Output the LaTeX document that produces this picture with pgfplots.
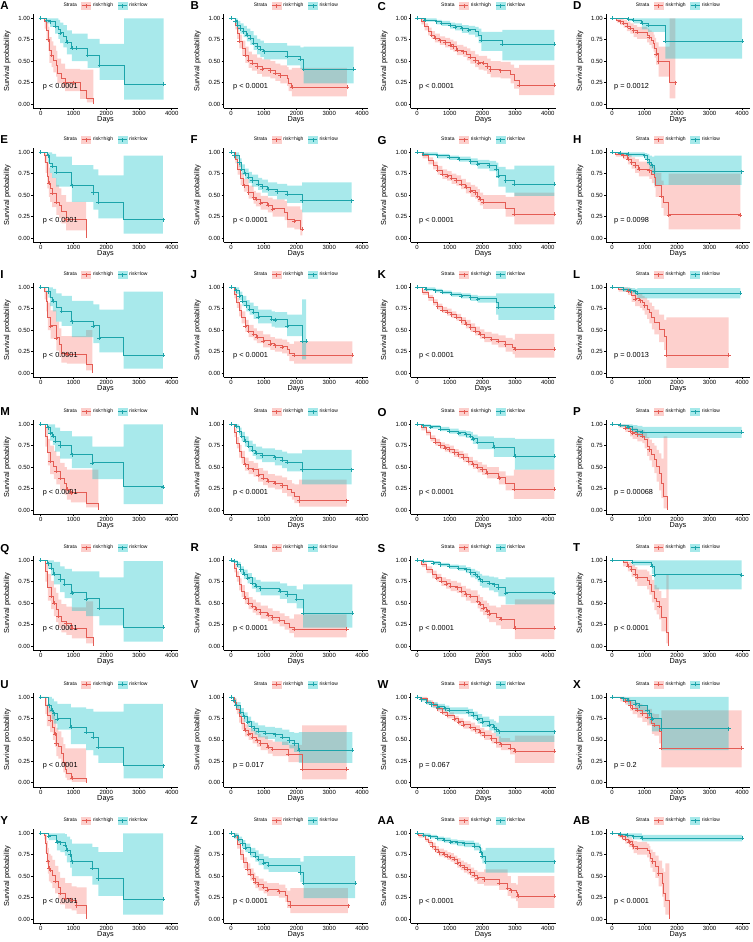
\documentclass[border=0pt]{standalone}
\usepackage{pgfplots}
\pgfplotsset{compat=1.18}
\usepackage{pgfplotstable}
\usepgfplotslibrary{fillbetween}
\usepackage{fontspec}
\setmainfont{Liberation Sans}
\definecolor{hibase}{HTML}{F8766D}
\definecolor{lobase}{HTML}{00BFC4}
\definecolor{hiline}{RGB}{228,92,84}
\definecolor{loline}{RGB}{28,164,170}
\colorlet{hifill}{hibase!35!white}
\colorlet{lofill}{lobase!35!white}
\newcommand\tickfont{\fontsize{6}{6}\selectfont}
\newcommand\labfont{\fontsize{7.3}{8}\selectfont}
\newcommand\legfont{\fontsize{5}{5.5}\selectfont}
\newcommand\letfont{\fontsize{11.5}{12}\selectfont\bfseries}
\pgfplotsset{
 km/.style={scale only axis, height=94.3pt, ymin=-0.05, ymax=1.05,
  axis x line*=bottom, axis y line*=left, axis line style={line width=0.5pt,-},
  xtick={0,1000,2000,3000,4000}, xticklabels={0,1000,2000,3000,4000},
  ytick={0,0.25,0.5,0.75,1}, yticklabels={0.00,0.25,0.50,0.75,1.00},
  tick align=outside, major tick length=2pt, tick style={line width=0.5pt,black},
  tick label style={font=\tickfont, inner sep=1pt},
  xlabel={Days}, ylabel={Survival probability},
  every axis x label/.style={at={(axis description cs:0.5,-0.124)},anchor=center,font=\labfont},
  every axis y label/.style={at={(axis description cs:-0.18,0.5)},rotate=90,anchor=center,font=\labfont},
  legend columns=-1,
  legend style={at={(axis description cs:0.5,1.088)},anchor=center,draw=none,fill=none,
   inner sep=0pt,font=\legfont,/tikz/every even column/.append style={column sep=2.5pt}},
 },
 hikey/.style={legend image code/.code={\fill[hifill] (0pt,-3.5pt) rectangle (9pt,3.5pt);
   \draw[hiline,line width=0.7pt] (0pt,0pt)--(9pt,0pt);
   \draw[hiline,line width=0.5pt] (4.5pt,-2pt)--(4.5pt,2pt);}},
 lokey/.style={legend image code/.code={\fill[lofill] (0pt,-3.5pt) rectangle (9pt,3.5pt);
   \draw[loline,line width=0.7pt] (0pt,0pt)--(9pt,0pt);
   \draw[loline,line width=0.5pt] (4.5pt,-2pt)--(4.5pt,2pt);}},
 c1/.style={xmin=-230,xmax=4190,width=144.7pt},
 c2/.style={xmin=-230,xmax=4190,width=144.7pt},
 c3/.style={xmin=-200,xmax=4250,width=145.5pt},
 c4/.style={xmin=-185,xmax=4245,width=144pt},
}
\newcommand{\band}[3]{%
 \addplot[const plot, draw=none, name path=#3u, forget plot] table[x=t,y=u]{#1};
 \addplot[const plot, draw=none, name path=#3l, forget plot] table[x=t,y=l]{#1};
 \addplot[fill=#2, fill opacity=0.34, draw=none, forget plot] fill between[of=#3u and #3l];
}
\newcommand{\curve}[2]{%
 \addplot[const plot, #2, line width=0.9pt, forget plot] table[x=t,y=s]{#1};
 \addplot[only marks, mark=+, mark size=2pt, #2, line width=0.5pt, forget plot,
   restrict expr to domain={\thisrow{c}}{0.5:1.5}] table[x=t,y=s]{#1};
}
\newcommand{\KM}[7]{%
\begin{axis}[km, #3, at={(#1pt,#2pt)}, anchor=south west,
  extra description/.code={\node[anchor=north west,inner sep=0pt,font=\letfont]
   at ([xshift=-33pt,yshift=12.2pt]axis description cs:0,1) {#4};}]
 \band{#6}{hibase}{h}
 \band{#7}{lobase}{o}
 \curve{#6}{hiline}
 \curve{#7}{loline}
 \node[anchor=west,inner sep=0pt,font=\labfont] at (axis cs:60,0.2) {#5};
 \addlegendimage{empty legend}\addlegendentry{Strata}
 \addlegendimage{hikey}\addlegendentry{risk=high}
 \addlegendimage{lokey}\addlegendentry{risk=low}
\end{axis}}

% ---------------- column 1 ----------------
\pgfplotstableread{
t s u l c
0 1 1 1 0
120 0.96 1 0.88 0
180 0.86 0.97 0.74 0
235 0.75 0.90 0.62 1
265 0.62 0.78 0.48 0
335 0.57 0.73 0.43 1
390 0.51 0.68 0.37 0
470 0.45 0.62 0.32 0
510 0.36 0.53 0.24 0
620 0.30 0.47 0.19 0
745 0.25 0.41 0.15 1
1000 0.25 0.41 0.15 1
1200 0.16 0.40 0.06 0
1410 0.07 0.40 0.02 0
1610 0.0 0.40 0.02 0
}\TAhi
\pgfplotstableread{
t s u l c
0 1 1 1 1
180 0.98 1 0.94 1
285 0.96 1 0.90 1
440 0.91 1 0.82 1
540 0.87 0.98 0.76 0
590 0.83 0.95 0.71 1
690 0.79 0.92 0.66 0
800 0.72 0.86 0.58 1
950 0.65 0.82 0.50 1
1100 0.65 0.82 0.50 1
1430 0.57 0.76 0.42 1
1800 0.455 0.70 0.28 1
2550 0.23 1.0 0.05 0
3755 0.23 1.0 0.05 1
}\TAlo
\pgfplotstableread{
t s u l c
0 1 1 1 0
120 0.96 1 0.88 0
150 0.88 0.98 0.76 0
200 0.72 0.88 0.58 0
250 0.64 0.82 0.48 1
290 0.58 0.76 0.42 0
350 0.52 0.70 0.36 1
480 0.42 0.62 0.27 1
560 0.38 0.58 0.23 0
630 0.31 0.50 0.17 0
775 0.215 0.42 0.09 1
1390 0.0 0.42 0.09 0
}\TEhi
\pgfplotstableread{
t s u l c
0 1 1 1 1
220 0.96 1 0.88 1
280 0.875 1 0.76 0
350 0.84 0.98 0.70 1
470 0.765 0.95 0.60 1
950 0.61 0.85 0.42 1
1610 0.53 0.80 0.33 1
1760 0.42 0.73 0.23 1
2530 0.215 0.96 0.05 0
3730 0.215 0.96 0.05 1
}\TElo
\pgfplotstableread{
t s u l c
0 1 1 1 0
120 0.95 1 0.86 0
170 0.84 0.96 0.72 0
220 0.65 0.82 0.50 0
300 0.55 0.73 0.40 1
480 0.41 0.60 0.26 1
560 0.33 0.52 0.19 0
630 0.23 0.43 0.12 0
800 0.22 0.43 0.11 1
1390 0.10 0.50 0.03 0
1580 0.0 0.50 0.03 0
}\TIhi
\pgfplotstableread{
t s u l c
0 1 1 1 1
230 0.95 1 0.88 1
290 0.88 1 0.78 0
370 0.84 0.98 0.72 1
470 0.76 0.93 0.60 0
640 0.72 0.90 0.55 1
950 0.60 0.84 0.42 1
1610 0.55 0.80 0.35 1
1790 0.41 0.74 0.24 1
2530 0.21 0.95 0.05 0
3730 0.21 0.95 0.05 1
}\TIlo
\pgfplotstableread{
t s u l c
0 1 1 1 0
140 0.86 0.97 0.74 0
220 0.67 0.83 0.52 0
290 0.57 0.75 0.42 1
400 0.51 0.69 0.36 0
480 0.45 0.63 0.30 1
590 0.37 0.55 0.23 1
730 0.31 0.50 0.18 0
800 0.245 0.47 0.12 1
920 0.20 0.47 0.09 1
1390 0.075 0.47 0.03 0
1760 0.0 0.47 0.03 0
}\TMhi
\pgfplotstableread{
t s u l c
0 1 1 1 1
220 0.96 1 0.90 1
290 0.90 1 0.81 1
370 0.86 1 0.76 1
440 0.80 0.96 0.68 1
590 0.75 0.92 0.60 1
950 0.645 0.86 0.49 1
1580 0.55 0.74 0.36 1
2530 0.27 1.0 0.07 0
3730 0.27 1.0 0.07 1
}\TMlo
\pgfplotstableread{
t s u l c
0 1 1 1 0
140 0.87 0.97 0.75 0
220 0.68 0.84 0.53 0
320 0.58 0.76 0.43 1
400 0.50 0.68 0.35 1
470 0.43 0.62 0.28 0
540 0.35 0.54 0.21 1
630 0.29 0.49 0.16 0
780 0.26 0.46 0.13 1
950 0.205 0.45 0.09 1
1390 0.105 0.52 0.03 0
1600 0.0 0.52 0.03 0
}\TQhi
\pgfplotstableread{
t s u l c
0 1 1 1 1
220 0.96 1 0.90 1
320 0.91 1 0.82 1
400 0.84 0.98 0.72 1
590 0.775 0.93 0.63 1
730 0.72 0.90 0.56 1
950 0.62 0.87 0.41 1
1390 0.55 0.87 0.35 1
1790 0.44 0.80 0.24 1
2530 0.22 0.99 0.05 0
3730 0.22 0.99 0.05 1
}\TQlo
\pgfplotstableread{
t s u l c
0 1 1 1 0
140 0.90 0.99 0.80 0
190 0.79 0.92 0.66 0
290 0.73 0.87 0.59 1
370 0.65 0.81 0.50 0
430 0.57 0.74 0.42 1
480 0.455 0.64 0.31 1
540 0.42 0.60 0.28 0
630 0.34 0.53 0.20 0
690 0.24 0.45 0.12 0
750 0.16 0.40 0.06 0
800 0.105 0.40 0.03 0
950 0.055 0.40 0.01 1
1390 0.0 0.40 0.01 0
}\TUhi
\pgfplotstableread{
t s u l c
0 1 1 1 1
250 0.90 1 0.82 1
340 0.845 0.98 0.74 1
400 0.805 0.95 0.69 1
510 0.745 0.92 0.62 1
920 0.65 0.88 0.45 1
1390 0.59 0.86 0.38 1
1610 0.53 0.83 0.32 1
1760 0.415 0.83 0.23 1
2530 0.20 0.92 0.05 0
3730 0.20 0.92 0.05 1
}\TUlo
\pgfplotstableread{
t s u l c
0 1 1 1 0
110 0.98 1 0.93 0
150 0.88 0.98 0.77 0
185 0.77 0.91 0.64 0
215 0.67 0.83 0.53 1
245 0.59 0.76 0.44 1
305 0.57 0.74 0.42 1
355 0.51 0.69 0.36 0
440 0.44 0.62 0.30 1
540 0.37 0.55 0.23 0
590 0.30 0.48 0.17 1
745 0.24 0.42 0.12 1
945 0.22 0.38 0.10 1
1100 0.155 0.37 0.06 1
1400 0.0 0.37 0.06 0
}\TYhi
\pgfplotstableread{
t s u l c
0 1 1 1 1
240 0.97 1 0.92 1
490 0.90 1 0.80 1
600 0.89 1 0.78 1
740 0.86 0.99 0.74 1
800 0.80 0.96 0.66 1
900 0.75 0.93 0.60 1
950 0.67 0.88 0.50 1
1580 0.59 0.84 0.40 1
1760 0.47 0.78 0.27 1
2520 0.23 1.0 0.05 0
3740 0.23 1.0 0.05 1
}\TYlo
% ---------------- column 2 ----------------
\pgfplotstableread{
t s u l c
0 1 1 1 0
130 0.92 0.97 0.87 0
185 0.825 0.90 0.76 0
255 0.73 0.81 0.65 1
335 0.65 0.74 0.56 0
435 0.57 0.67 0.48 1
540 0.51 0.61 0.42 1
640 0.475 0.58 0.39 1
795 0.435 0.54 0.35 1
950 0.41 0.52 0.32 1
1200 0.39 0.50 0.30 1
1355 0.36 0.47 0.27 1
1505 0.33 0.45 0.24 1
1710 0.30 0.43 0.21 0
1760 0.24 0.40 0.15 0
1860 0.195 0.42 0.09 1
3540 0.195 0.42 0.09 1
}\TBhi
\pgfplotstableread{
t s u l c
0 1 1 1 1
130 0.97 1 0.93 1
200 0.92 0.97 0.87 1
285 0.88 0.94 0.82 1
385 0.845 0.91 0.78 1
485 0.805 0.88 0.73 1
590 0.77 0.85 0.69 1
690 0.71 0.80 0.63 1
795 0.67 0.76 0.58 1
900 0.64 0.74 0.55 1
1000 0.61 0.71 0.52 1
1710 0.56 0.68 0.45 1
2115 0.52 0.66 0.41 1
2220 0.405 0.67 0.24 1
3745 0.405 0.67 0.24 1
}\TBlo
\pgfplotstableread{
t s u l c
0 1 1 1 0
130 0.92 0.97 0.87 0
200 0.80 0.87 0.74 0
290 0.69 0.76 0.62 0
390 0.61 0.69 0.54 1
540 0.53 0.61 0.46 1
690 0.47 0.55 0.40 1
760 0.45 0.53 0.37 1
905 0.41 0.49 0.33 1
1125 0.38 0.47 0.30 1
1270 0.34 0.45 0.25 1
1635 0.30 0.43 0.21 0
1710 0.22 0.37 0.12 0
1935 0.20 0.37 0.10 1
2120 0.10 0.33 0.03 0
2180 0.10 0.33 0.03 1
}\TFhi
\pgfplotstableread{
t s u l c
0 1 1 1 1
100 0.96 1 0.92 1
250 0.88 0.93 0.83 1
320 0.80 0.86 0.74 1
420 0.75 0.81 0.69 1
540 0.71 0.77 0.64 1
640 0.67 0.74 0.60 1
830 0.63 0.70 0.56 1
950 0.60 0.68 0.53 1
1125 0.57 0.65 0.49 1
1410 0.54 0.63 0.45 1
1710 0.51 0.61 0.41 1
2175 0.435 0.65 0.30 1
3680 0.435 0.65 0.30 1
}\TFlo
\pgfplotstableread{
t s u l c
0 1 1 1 0
100 0.92 0.97 0.87 0
175 0.82 0.88 0.76 0
250 0.73 0.80 0.66 0
320 0.65 0.72 0.58 0
440 0.55 0.62 0.48 1
540 0.49 0.56 0.42 1
690 0.45 0.52 0.38 1
790 0.42 0.49 0.35 1
980 0.375 0.45 0.30 1
1200 0.34 0.42 0.27 1
1340 0.32 0.40 0.25 1
1560 0.305 0.39 0.23 1
1710 0.28 0.36 0.20 0
1780 0.23 0.34 0.14 0
1925 0.21 0.37 0.11 1
3710 0.21 0.37 0.11 1
}\TJhi
\pgfplotstableread{
t s u l c
0 1 1 1 1
150 0.96 1 0.92 1
250 0.90 0.95 0.85 1
350 0.84 0.90 0.78 1
470 0.785 0.85 0.72 1
570 0.745 0.82 0.68 1
690 0.71 0.78 0.63 1
830 0.655 0.74 0.58 1
1240 0.63 0.72 0.54 1
1340 0.62 0.71 0.53 1
1710 0.55 0.68 0.43 1
2175 0.37 0.86 0.16 1
2290 0.37 0.86 0.16 1
}\TJlo
\pgfplotstableread{
t s u l c
0 1 1 1 0
100 0.90 0.95 0.85 0
175 0.78 0.85 0.72 0
250 0.685 0.76 0.61 0
320 0.61 0.69 0.54 0
420 0.53 0.61 0.46 1
540 0.49 0.57 0.42 1
690 0.47 0.55 0.39 1
830 0.41 0.49 0.33 1
980 0.37 0.46 0.29 1
1125 0.335 0.42 0.26 1
1340 0.315 0.40 0.24 1
1560 0.285 0.38 0.20 1
1710 0.245 0.35 0.16 0
1860 0.20 0.31 0.12 0
1935 0.16 0.30 0.08 0
2080 0.11 0.355 0.04 1
3530 0.11 0.355 0.04 1
}\TNhi
\pgfplotstableread{
t s u l c
0 1 1 1 1
150 0.98 1 0.95 1
250 0.92 0.96 0.87 1
320 0.86 0.91 0.80 1
420 0.80 0.86 0.74 1
540 0.745 0.81 0.68 1
660 0.70 0.77 0.63 1
760 0.665 0.74 0.59 1
950 0.635 0.72 0.56 1
1340 0.61 0.70 0.52 1
1560 0.58 0.68 0.49 1
1710 0.555 0.66 0.45 1
2175 0.47 0.70 0.30 1
3680 0.47 0.70 0.30 1
}\TNlo
\pgfplotstableread{
t s u l c
0 1 1 1 0
100 0.91 0.96 0.86 0
175 0.81 0.87 0.75 0
250 0.72 0.79 0.65 0
320 0.64 0.71 0.57 0
420 0.56 0.63 0.49 1
540 0.50 0.57 0.43 1
660 0.465 0.54 0.39 1
760 0.43 0.51 0.36 1
905 0.39 0.47 0.32 1
1125 0.36 0.44 0.29 1
1270 0.33 0.41 0.26 1
1485 0.30 0.38 0.23 1
1635 0.26 0.35 0.19 0
1780 0.22 0.32 0.15 0
1925 0.195 0.37 0.10 1
3530 0.195 0.37 0.10 1
}\TRhi
\pgfplotstableread{
t s u l c
0 1 1 1 1
100 0.99 1 0.97 1
200 0.95 0.98 0.91 1
290 0.89 0.93 0.84 1
390 0.84 0.89 0.78 1
510 0.795 0.85 0.73 1
640 0.735 0.80 0.67 1
760 0.70 0.77 0.63 1
905 0.67 0.75 0.59 1
1490 0.64 0.73 0.55 1
1710 0.60 0.70 0.50 1
2000 0.545 0.66 0.44 1
2200 0.385 0.72 0.215 1
3710 0.385 0.72 0.215 1
}\TRlo
\pgfplotstableread{
t s u l c
0 1 1 1 0
100 0.94 0.98 0.90 0
175 0.86 0.91 0.80 0
250 0.77 0.83 0.70 0
320 0.69 0.76 0.62 0
420 0.61 0.68 0.54 1
540 0.57 0.64 0.50 1
660 0.53 0.61 0.46 1
790 0.49 0.57 0.42 1
905 0.455 0.54 0.38 1
1125 0.415 0.50 0.34 1
1270 0.39 0.48 0.31 1
1750 0.33 0.44 0.24 1
2175 0.155 0.67 0.04 1
3530 0.155 0.67 0.04 1
}\TVhi
\pgfplotstableread{
t s u l c
0 1 1 1 1
70 0.96 0.99 0.93 1
150 0.90 0.94 0.86 1
290 0.825 0.87 0.77 1
390 0.77 0.82 0.71 1
510 0.71 0.77 0.65 1
610 0.66 0.72 0.60 1
720 0.63 0.70 0.56 1
830 0.60 0.67 0.53 1
1040 0.58 0.65 0.51 1
1340 0.56 0.64 0.48 1
1560 0.53 0.62 0.44 1
1780 0.49 0.59 0.40 1
1925 0.455 0.58 0.36 1
2070 0.38 0.59 0.23 1
3710 0.38 0.59 0.23 1
}\TVlo
\pgfplotstableread{
t s u l c
0 1 1 1 0
100 0.97 1 0.94 0
185 0.87 0.92 0.82 0
285 0.75 0.81 0.69 0
385 0.66 0.72 0.59 0
490 0.58 0.65 0.51 1
590 0.52 0.59 0.45 1
690 0.47 0.54 0.40 1
740 0.43 0.50 0.36 1
840 0.40 0.47 0.33 1
995 0.37 0.44 0.30 1
1100 0.34 0.42 0.27 1
1460 0.32 0.40 0.25 1
1660 0.27 0.36 0.20 0
1710 0.21 0.33 0.13 0
1810 0.155 0.36 0.07 1
3570 0.155 0.36 0.07 1
}\TZhi
\pgfplotstableread{
t s u l c
0 1 1 1 1
100 0.97 1 0.94 1
235 0.93 0.96 0.89 1
335 0.88 0.92 0.83 1
435 0.83 0.88 0.78 1
590 0.775 0.83 0.72 1
740 0.735 0.80 0.67 1
840 0.695 0.76 0.63 1
995 0.655 0.73 0.58 1
1150 0.625 0.71 0.55 1
2115 0.54 0.67 0.43 1
2220 0.42 0.735 0.245 1
3790 0.42 0.735 0.245 1
}\TZlo
% ---------------- column 3 ----------------
\pgfplotstableread{
t s u l c
0 1 1 1 0
130 0.96 0.99 0.93 0
235 0.90 0.94 0.86 0
340 0.845 0.89 0.80 0
445 0.805 0.85 0.76 1
545 0.77 0.82 0.72 1
700 0.74 0.79 0.69 1
855 0.715 0.77 0.66 1
1010 0.69 0.75 0.63 1
1110 0.67 0.73 0.61 1
1215 0.63 0.69 0.57 1
1420 0.61 0.67 0.55 1
1525 0.58 0.65 0.51 0
1630 0.545 0.62 0.47 1
1780 0.505 0.58 0.43 1
1880 0.48 0.56 0.40 1
2040 0.475 0.56 0.39 1
2145 0.435 0.53 0.35 1
2250 0.40 0.50 0.31 1
2555 0.39 0.49 0.30 1
2865 0.34 0.46 0.24 0
2970 0.28 0.42 0.18 0
3125 0.22 0.455 0.105 1
4200 0.22 0.455 0.105 1
}\TChi
\pgfplotstableread{
t s u l c
0 1 1 1 1
240 0.98 1 0.96 1
600 0.96 0.98 0.93 1
750 0.94 0.97 0.91 1
1010 0.92 0.95 0.88 1
1165 0.90 0.94 0.86 1
1370 0.88 0.92 0.83 1
1575 0.865 0.91 0.81 1
1780 0.845 0.90 0.78 0
1885 0.805 0.88 0.71 0
1970 0.745 0.84 0.62 1
2610 0.695 0.865 0.51 1
4200 0.695 0.865 0.51 1
}\TClo
\pgfplotstableread{
t s u l c
0 1 1 1 0
170 0.96 0.99 0.93 0
345 0.90 0.94 0.86 0
490 0.845 0.89 0.80 0
630 0.79 0.84 0.74 1
775 0.745 0.80 0.69 1
920 0.725 0.78 0.67 1
1060 0.695 0.75 0.63 1
1205 0.67 0.73 0.61 1
1345 0.63 0.69 0.57 1
1490 0.59 0.65 0.52 1
1635 0.55 0.62 0.48 1
1780 0.53 0.60 0.46 1
1850 0.49 0.57 0.42 1
1920 0.455 0.53 0.38 1
2020 0.42 0.50 0.34 1
2710 0.345 0.48 0.25 0
2980 0.28 0.53 0.16 1
4200 0.28 0.53 0.16 1
}\TGhi
\pgfplotstableread{
t s u l c
0 1 1 1 1
200 0.98 1 0.96 1
630 0.96 0.98 0.93 1
990 0.94 0.96 0.91 1
1280 0.92 0.95 0.89 1
1635 0.89 0.93 0.85 1
1850 0.865 0.91 0.81 1
2210 0.845 0.90 0.78 1
2420 0.80 0.88 0.70 1
2490 0.725 0.83 0.60 1
2710 0.67 0.80 0.53 1
2980 0.63 0.845 0.49 1
4200 0.63 0.845 0.49 1
}\TGlo
\pgfplotstableread{
t s u l c
0 1 1 1 0
170 0.94 0.97 0.91 0
345 0.88 0.91 0.84 0
490 0.825 0.86 0.79 0
630 0.775 0.81 0.74 1
775 0.735 0.77 0.70 1
920 0.71 0.75 0.67 1
1060 0.68 0.72 0.64 1
1205 0.65 0.69 0.61 1
1345 0.61 0.65 0.56 1
1490 0.57 0.62 0.52 1
1635 0.53 0.58 0.48 1
1780 0.49 0.54 0.44 1
1920 0.455 0.51 0.40 1
2060 0.42 0.48 0.36 1
2280 0.395 0.46 0.33 1
2490 0.37 0.44 0.30 1
2710 0.33 0.41 0.25 1
2920 0.30 0.39 0.22 0
2990 0.28 0.455 0.18 1
4200 0.28 0.455 0.18 1
}\TKhi
\pgfplotstableread{
t s u l c
0 1 1 1 1
270 0.98 1 0.96 1
560 0.96 0.98 0.94 1
775 0.94 0.96 0.92 1
1060 0.92 0.94 0.89 1
1345 0.90 0.93 0.87 1
1635 0.88 0.91 0.84 1
1850 0.865 0.90 0.82 1
2420 0.825 0.93 0.68 0
2490 0.765 0.93 0.62 1
4200 0.765 0.93 0.62 1
}\TKlo
\pgfplotstableread{
t s u l c
0 1 1 1 0
130 0.96 0.99 0.93 0
275 0.90 0.93 0.87 0
415 0.84 0.87 0.80 0
560 0.79 0.83 0.75 1
705 0.75 0.79 0.71 1
850 0.725 0.77 0.68 1
990 0.705 0.75 0.66 1
1130 0.67 0.71 0.62 1
1275 0.645 0.69 0.60 1
1420 0.61 0.66 0.56 1
1560 0.57 0.62 0.52 1
1705 0.53 0.58 0.48 1
1850 0.50 0.56 0.44 1
1990 0.47 0.53 0.41 1
2135 0.43 0.50 0.37 1
2500 0.375 0.45 0.30 1
2710 0.315 0.40 0.23 0
2965 0.245 0.47 0.13 1
4200 0.245 0.47 0.13 1
}\TOhi
\pgfplotstableread{
t s u l c
0 1 1 1 1
200 0.985 1 0.97 1
415 0.97 0.99 0.95 1
705 0.945 0.97 0.92 1
990 0.92 0.95 0.89 1
1275 0.90 0.93 0.86 1
1490 0.88 0.92 0.84 1
1635 0.86 0.91 0.81 1
1705 0.83 0.88 0.77 1
1850 0.79 0.86 0.71 1
2350 0.735 0.84 0.62 1
2990 0.625 0.83 0.47 1
4200 0.625 0.83 0.47 1
}\TOlo
\pgfplotstableread{
t s u l c
0 1 1 1 0
145 0.95 0.98 0.92 0
290 0.89 0.93 0.85 0
460 0.835 0.88 0.79 0
600 0.795 0.84 0.75 1
745 0.755 0.80 0.70 1
890 0.725 0.78 0.67 1
1030 0.70 0.76 0.64 1
1220 0.68 0.74 0.62 1
1345 0.64 0.70 0.57 1
1490 0.60 0.67 0.53 1
1635 0.58 0.65 0.50 1
1850 0.52 0.60 0.44 1
1920 0.485 0.57 0.40 1
2020 0.445 0.53 0.36 1
2135 0.41 0.50 0.32 1
2205 0.375 0.47 0.28 1
2420 0.33 0.45 0.24 0
2565 0.31 0.48 0.20 1
2990 0.21 0.545 0.08 1
4200 0.21 0.545 0.08 1
}\TShi
\pgfplotstableread{
t s u l c
0 1 1 1 1
200 0.99 1 0.98 1
490 0.97 0.99 0.95 1
705 0.95 0.97 0.93 1
990 0.93 0.95 0.90 1
1275 0.91 0.94 0.88 1
1490 0.89 0.92 0.85 1
1635 0.855 0.90 0.80 1
1780 0.835 0.88 0.78 1
1850 0.815 0.87 0.75 1
1920 0.775 0.84 0.70 1
1990 0.755 0.82 0.68 1
2205 0.735 0.81 0.65 1
2350 0.715 0.80 0.63 1
2490 0.68 0.78 0.58 1
2710 0.62 0.80 0.485 1
4200 0.62 0.80 0.485 1
}\TSlo
\pgfplotstableread{
t s u l c
0 1 1 1 0
100 0.98 1 0.96 0
315 0.94 0.96 0.92 0
490 0.90 0.93 0.87 0
630 0.865 0.90 0.83 1
775 0.825 0.86 0.79 1
920 0.785 0.82 0.75 1
1130 0.745 0.78 0.71 1
1275 0.71 0.75 0.67 1
1420 0.675 0.72 0.63 1
1635 0.65 0.70 0.60 1
1780 0.62 0.67 0.57 1
1920 0.59 0.64 0.54 1
2060 0.55 0.61 0.50 1
2280 0.515 0.58 0.46 1
2420 0.475 0.54 0.41 1
2565 0.445 0.52 0.38 1
2850 0.405 0.49 0.33 1
2990 0.365 0.55 0.23 1
4200 0.365 0.55 0.23 1
}\TWhi
\pgfplotstableread{
t s u l c
0 1 1 1 1
130 0.97 0.99 0.95 1
290 0.94 0.96 0.91 1
430 0.91 0.94 0.88 1
630 0.885 0.92 0.85 1
850 0.865 0.90 0.83 1
990 0.845 0.88 0.80 1
1560 0.82 0.86 0.77 1
1710 0.785 0.83 0.74 1
1850 0.745 0.80 0.69 1
1990 0.71 0.77 0.65 1
2210 0.675 0.74 0.61 1
2350 0.65 0.72 0.58 1
2420 0.62 0.70 0.54 1
2500 0.595 0.78 0.475 1
4200 0.595 0.78 0.475 1
}\TWlo
\pgfplotstableread{
t s u l c
0 1 1 1 0
50 0.97 0.99 0.95 0
260 0.93 0.95 0.90 0
360 0.89 0.92 0.86 0
460 0.85 0.89 0.81 1
565 0.81 0.85 0.77 1
665 0.775 0.82 0.73 1
820 0.755 0.80 0.71 1
925 0.735 0.78 0.69 1
1025 0.72 0.77 0.67 1
1130 0.695 0.74 0.64 1
1230 0.655 0.71 0.60 1
1330 0.63 0.68 0.57 1
1435 0.60 0.66 0.54 1
1540 0.58 0.64 0.52 1
1640 0.54 0.60 0.48 1
1745 0.51 0.57 0.44 1
1845 0.48 0.55 0.41 1
2050 0.46 0.58 0.39 1
2510 0.42 0.58 0.34 1
2770 0.36 0.50 0.27 1
2870 0.33 0.42 0.24 1
3030 0.305 0.40 0.21 0
3080 0.265 0.50 0.13 1
4200 0.265 0.50 0.13 1
}\TAAhi
\pgfplotstableread{
t s u l c
0 1 1 1 1
200 0.98 1 0.96 1
410 0.96 0.98 0.94 1
615 0.94 0.96 0.91 1
820 0.92 0.95 0.89 1
1025 0.90 0.93 0.87 1
1230 0.89 0.92 0.85 1
1440 0.88 0.915 0.84 1
1745 0.85 0.89 0.80 1
1900 0.83 0.87 0.77 0
1950 0.775 0.83 0.70 1
2000 0.735 0.80 0.65 1
2100 0.67 0.83 0.54 1
4200 0.67 0.83 0.54 1
}\TAAlo
% ---------------- column 4 ----------------
\pgfplotstableread{
t s u l c
0 1 1 1 0
150 0.98 1 0.95 0
255 0.96 0.99 0.92 1
360 0.94 0.98 0.89 1
460 0.91 0.96 0.85 1
565 0.885 0.94 0.82 1
665 0.855 0.92 0.78 1
770 0.835 0.90 0.76 1
1080 0.805 0.88 0.72 0
1150 0.78 0.86 0.69 1
1215 0.745 0.84 0.65 0
1280 0.71 0.81 0.61 0
1310 0.65 0.77 0.54 0
1360 0.585 0.72 0.46 1
1435 0.495 0.67 0.32 1
1775 0.25 1.0 0.065 0
1950 0.25 1.0 0.065 1
}\TDhi
\pgfplotstableread{
t s u l c
0 1 1 1 1
510 0.99 1 0.97 1
665 0.975 1 0.94 1
920 0.94 1 0.87 1
1110 0.92 1 0.84 1
1640 0.73 1 0.53 1
4000 0.73 1 0.53 1
}\TDlo
\pgfplotstableread{
t s u l c
0 1 1 1 0
120 0.98 1 0.95 0
340 0.96 0.99 0.92 1
490 0.92 0.97 0.86 1
605 0.88 0.94 0.81 1
710 0.845 0.92 0.76 1
825 0.805 0.89 0.72 1
1150 0.785 0.87 0.69 1
1225 0.745 0.85 0.64 0
1300 0.705 0.82 0.59 0
1345 0.615 0.76 0.48 0
1520 0.49 0.67 0.35 1
1590 0.41 0.62 0.26 0
1740 0.27 0.75 0.10 1
3950 0.27 0.75 0.10 1
}\THhi
\pgfplotstableread{
t s u l c
0 1 1 1 1
260 0.99 1 0.97 1
490 0.98 1 0.95 1
1000 0.96 0.99 0.92 1
1080 0.92 0.98 0.86 1
1150 0.88 0.96 0.80 1
1225 0.845 0.95 0.75 1
1300 0.775 0.96 0.62 1
3990 0.775 0.96 0.62 1
}\THlo
\pgfplotstableread{
t s u l c
0 1 1 1 0
200 0.98 1 0.95 0
490 0.955 0.99 0.91 1
605 0.90 0.96 0.83 0
710 0.865 0.93 0.78 1
855 0.845 0.92 0.76 1
930 0.825 0.90 0.73 0
1000 0.785 0.88 0.68 1
1080 0.745 0.85 0.63 0
1150 0.705 0.82 0.58 0
1225 0.645 0.78 0.51 0
1300 0.59 0.74 0.45 0
1450 0.51 0.68 0.36 0
1600 0.43 0.62 0.27 0
1670 0.21 0.65 0.06 1
3590 0.21 0.65 0.06 1
}\TLhi
\pgfplotstableread{
t s u l c
0 1 1 1 1
340 0.98 1 0.95 1
560 0.96 0.99 0.93 1
710 0.95 0.98 0.91 1
780 0.93 0.99 0.87 1
3950 0.93 0.99 0.87 1
}\TLlo
\pgfplotstableread{
t s u l c
0 1 1 1 0
200 0.985 1 0.96 0
410 0.955 0.99 0.91 1
560 0.92 0.97 0.86 1
630 0.90 0.96 0.83 1
780 0.88 0.94 0.80 1
930 0.86 0.93 0.78 1
1000 0.82 0.90 0.72 0
1080 0.745 0.85 0.63 0
1150 0.705 0.82 0.58 1
1225 0.645 0.78 0.50 0
1300 0.59 0.75 0.43 0
1370 0.51 0.70 0.33 0
1450 0.43 0.66 0.23 0
1520 0.315 0.60 0.14 0
1590 0.16 0.86 0.02 0
1700 0.0 0.86 0.02 0
}\TPhi
\pgfplotstableread{
t s u l c
0 1 1 1 1
260 0.99 1 0.97 1
490 0.97 1 0.94 1
630 0.94 0.99 0.89 1
780 0.92 0.98 0.86 1
930 0.905 0.97 0.84 1
3990 0.905 0.97 0.84 1
}\TPlo
\pgfplotstableread{
t s u l c
0 1 1 1 0
340 0.97 1 0.93 0
490 0.93 0.98 0.87 1
605 0.89 0.95 0.81 1
710 0.84 0.92 0.75 1
780 0.80 0.89 0.70 1
1080 0.765 0.87 0.66 0
1150 0.72 0.83 0.60 0
1225 0.64 0.77 0.51 0
1300 0.56 0.71 0.42 0
1370 0.52 0.68 0.37 0
1450 0.465 0.64 0.31 1
1520 0.33 0.56 0.17 0
1670 0.155 0.83 0.03 0
1740 0.0 0.83 0.03 0
}\TThi
\pgfplotstableread{
t s u l c
0 1 1 1 1
630 0.98 1 0.94 1
1225 0.93 1 0.84 1
1300 0.83 1 0.66 1
3990 0.83 1 0.66 1
}\TTlo
\pgfplotstableread{
t s u l c
0 1 1 1 0
260 0.98 1 0.95 0
410 0.95 0.99 0.91 1
560 0.90 0.96 0.84 1
630 0.87 0.94 0.80 1
780 0.845 0.92 0.76 1
930 0.805 0.89 0.71 1
1080 0.765 0.86 0.67 1
1225 0.69 0.81 0.57 0
1300 0.67 0.80 0.55 1
1450 0.60 0.75 0.46 0
1520 0.40 0.845 0.18 1
3990 0.40 0.845 0.18 1
}\TXhi
\pgfplotstableread{
t s u l c
0 1 1 1 1
340 0.98 1 0.95 1
490 0.96 1 0.91 1
710 0.92 1 0.85 1
850 0.90 1 0.82 1
1080 0.845 1 0.74 1
1150 0.805 1 0.69 1
1225 0.745 1 0.60 1
1520 0.63 1 0.38 1
3590 0.63 1 0.38 1
}\TXlo
\pgfplotstableread{
t s u l c
0 1 1 1 0
200 0.98 1 0.95 0
305 0.96 0.99 0.92 1
410 0.93 0.97 0.88 1
515 0.90 0.95 0.84 1
615 0.875 0.93 0.81 1
665 0.845 0.91 0.77 1
770 0.825 0.90 0.75 1
1080 0.805 0.88 0.72 0
1150 0.765 0.85 0.67 0
1180 0.71 0.81 0.60 0
1250 0.67 0.78 0.55 1
1335 0.61 0.74 0.48 0
1435 0.53 0.68 0.38 1
1540 0.415 0.59 0.26 0
1590 0.30 0.55 0.14 0
1640 0.22 0.65 0.05 0
1765 0.0 0.65 0.05 0
}\TABhi
\pgfplotstableread{
t s u l c
0 1 1 1 1
250 0.99 1 0.97 1
460 0.975 1 0.95 1
665 0.96 1 0.93 1
920 0.945 0.98 0.905 1
4000 0.945 0.98 0.905 1
}\TABlo

\begin{document}
\begin{tikzpicture}
\path (0pt,0pt) rectangle (752pt,942pt);
% row 1
\KM{33.2}{833.7}{c1}{A}{p < 0.0001}{\TAhi}{\TAlo}
\KM{223.5}{833.7}{c2}{B}{p < 0.0001}{\TBhi}{\TBlo}
\KM{410.5}{833.7}{c3}{C}{p < 0.0001}{\TChi}{\TClo}
\KM{606}{833.7}{c4}{D}{p = 0.0012}{\TDhi}{\TDlo}
% row 2
\KM{33.2}{699.7}{c1}{E}{p < 0.0001}{\TEhi}{\TElo}
\KM{223.5}{699.7}{c2}{F}{p < 0.0001}{\TFhi}{\TFlo}
\KM{410.5}{699.7}{c3}{G}{p < 0.0001}{\TGhi}{\TGlo}
\KM{606}{699.7}{c4}{H}{p = 0.0098}{\THhi}{\THlo}
% row 3
\KM{33.2}{564.7}{c1}{I}{p < 0.0001}{\TIhi}{\TIlo}
\KM{223.5}{564.7}{c2}{J}{p < 0.0001}{\TJhi}{\TJlo}
\KM{410.5}{564.7}{c3}{K}{p < 0.0001}{\TKhi}{\TKlo}
\KM{606}{564.7}{c4}{L}{p = 0.0013}{\TLhi}{\TLlo}
% row 4
\KM{33.2}{427.7}{c1}{M}{p < 0.0001}{\TMhi}{\TMlo}
\KM{223.5}{427.7}{c2}{N}{p < 0.0001}{\TNhi}{\TNlo}
\KM{410.5}{427.7}{c3}{O}{p < 0.0001}{\TOhi}{\TOlo}
\KM{606}{427.7}{c4}{P}{p = 0.00068}{\TPhi}{\TPlo}
% row 5
\KM{33.2}{291.7}{c1}{Q}{p < 0.0001}{\TQhi}{\TQlo}
\KM{223.5}{291.7}{c2}{R}{p < 0.0001}{\TRhi}{\TRlo}
\KM{410.5}{291.7}{c3}{S}{p < 0.0001}{\TShi}{\TSlo}
\KM{606}{291.7}{c4}{T}{p < 0.0001}{\TThi}{\TTlo}
% row 6
\KM{33.2}{155}{c1}{U}{p < 0.0001}{\TUhi}{\TUlo}
\KM{223.5}{155}{c2}{V}{p = 0.017}{\TVhi}{\TVlo}
\KM{410.5}{155}{c3}{W}{p = 0.067}{\TWhi}{\TWlo}
\KM{606}{155}{c4}{X}{p = 0.2}{\TXhi}{\TXlo}
% row 7
\KM{33.2}{18.7}{c1}{Y}{p < 0.0001}{\TYhi}{\TYlo}
\KM{223.5}{18.7}{c2}{Z}{p < 0.0001}{\TZhi}{\TZlo}
\KM{410.5}{18.7}{c3}{AA}{p < 0.0001}{\TAAhi}{\TAAlo}
\KM{606}{18.7}{c4}{AB}{p < 0.0001}{\TABhi}{\TABlo}
\end{tikzpicture}
\end{document}
